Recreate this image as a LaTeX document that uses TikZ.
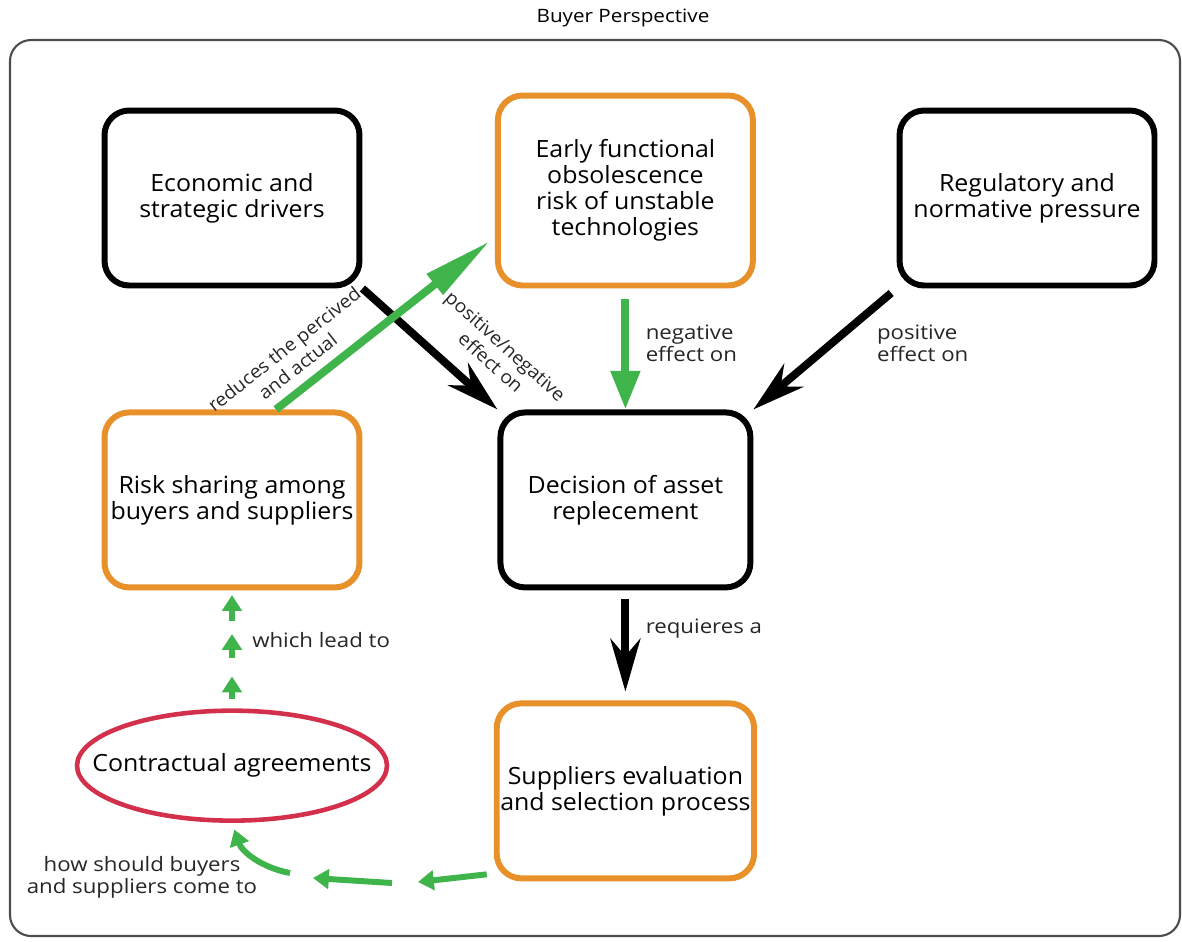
\documentclass[tikz,border=0pt]{standalone}
\usepackage{fontspec}
\setmainfont{Open Sans}[FakeStretch=1.05]
\newfontfamily\lblfont{Open Sans}[FakeStretch=1.12]
\usepackage{xcolor}
\usetikzlibrary{positioning,calc,shapes.geometric,arrows.meta}

\definecolor{bporange}{HTML}{E8912B}
\definecolor{bpgreen}{HTML}{3FB44A}
\definecolor{bpred}{HTML}{D3304C}

\tikzset{
  blackbox/.style={draw=black, line width=3.4pt, rounded corners=14pt, inner xsep=2pt, minimum width=5.1cm, minimum height=3.5cm, align=center, font=\fontsize{13.5}{14.8}\selectfont},
  orangebox/.style={blackbox, draw=bporange},
  blackarrow/.style={line width=4.5pt, -{Stealth[length=30pt,width=17pt]}},
  greenarrow/.style={draw=bpgreen, line width=4.5pt, -{Triangle[length=22pt,width=16pt]}, bpgreen},
  gstep/.style={draw=bpgreen, line width=3.4pt, -{Triangle[length=9pt,width=11pt]}, bpgreen},
  lbl/.style={font=\lblfont\fontsize{11.3}{12.5}\selectfont, align=left, text=black!85},
  slbl/.style={font=\fontsize{10.5}{12.5}\selectfont, align=center, text=black!85},
}

\begin{document}
\begin{tikzpicture}[x=0.02cm,y=-0.02cm]
		\useasboundingbox (0,0) rectangle (1182,941);
		\node[font=\lblfont\fontsize{10.5}{13}\selectfont] (title) at (623,18) {Buyer Perspective};
		\draw[black!70, line width=1.2pt, rounded corners=12pt] (10,40) rectangle (1180,936);
		
		\node[blackbox] (econ) at (232,198) {Economic and\\strategic drivers};
		\node[orangebox, below=2.42cm of econ] (risk) {Risk sharing among\\buyers and suppliers};
		\node[blackbox, minimum width=5cm, right=2.7cm of risk] (dec) {Decision of asset\\replecement};
		\node[orangebox, minimum height=3.8cm, above=2.42cm of dec] (early) {Early functional\\obsolescence\\risk of unstable\\technologies};
		\node[blackbox] (reg) at (1027,198) {Regulatory and\\normative pressure};
		\node[orangebox, below=2.2cm of dec] (supp) {Suppliers evaluation\\and selection process};
		\node[draw=bpred, ellipse, line width=2.6pt, inner sep=0pt, minimum width=6.2cm, minimum height=2.2cm, below=2.36cm of risk] (cont) {};
		\node[font=\fontsize{13.5}{14.8}\selectfont] (contlbl) at (cont) {Contractual agreements};
		\node[lbl, align=center] (howlbl) at (142,877) {how should buyers\\and suppliers come to};
		
		\coordinate (h1) at (418,882);
		\coordinate (h2) at (392,883);
		\coordinate (h3) at (313,878);
		\coordinate (h4) at (290,873);
		
		\draw[blackarrow] (econ.south east) -- (dec.north west) node[slbl, pos=0.8, sloped, above=8pt] {positive/negative\\effect on};
		\draw[greenarrow, -{Triangle[length=40pt,width=14pt]}] ([xshift=0.88cm]risk.north) -- ([xshift=-0.1cm,yshift=0.95cm]early.south west) node[slbl, pos=0.16, sloped, above=2pt] {reduces the percived\\and actual};
		\draw[greenarrow, shorten <=6pt] (early.south) -- (dec.north) node[lbl, pos=0.45, right=6pt] {negative\\effect on};
		\draw[blackarrow, shorten <=4pt] (reg.south west) -- (dec.north east) node[lbl, pos=0.45, right=20pt] {positive\\effect on};
		\draw[blackarrow, shorten <=5pt, shorten >=5pt] (dec.south) -- (supp.north) node[lbl, pos=0.35, right=6pt] {requieres a};
		
		\foreach \a/\b in {0.08/0.27,0.43/0.63,0.74/0.96}
			\draw[gstep] ($(cont.north)!\a!(risk.south)$) -- ($(cont.north)!\b!(risk.south)$);
		\path (cont.north) -- (risk.south) node[lbl, pos=0.58, right=8pt] {which lead to};
		
		\draw[gstep] ([xshift=-0.14cm,yshift=0.14cm]supp.south west) -- (h1);
		\draw[gstep] (h2) -- (h3);
		\draw[gstep, shorten >=4pt] (h4) to[bend left=30] (cont.south);
	\end{tikzpicture}
\end{document}
